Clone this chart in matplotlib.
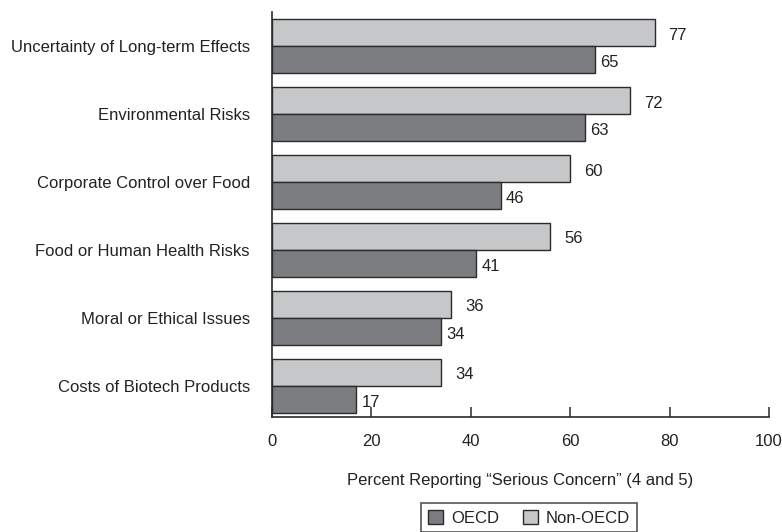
import matplotlib
matplotlib.use("Agg")
import matplotlib.pyplot as plt
import numpy as np
from matplotlib.patches import Patch

plt.rcParams["font.family"] = ["Liberation Sans", "DejaVu Sans"]

concerns = [
    "Uncertainty of Long-term Effects",
    "Environmental Risks",
    "Corporate Control over Food",
    "Food or Human Health Risks",
    "Moral or Ethical Issues",
    "Costs of Biotech Products",
]
oecd = [65, 63, 46, 41, 34, 17]
non_oecd = [77, 72, 60, 56, 36, 34]
xticks = [0, 20, 40, 60, 80, 100]

DARK = "#7b7d80"
LIGHT = "#c5c7c9"
EDGE = "#2b2b2b"
TEXT = "#222222"
FS = 12

fig = plt.figure(figsize=(7.82, 5.32), dpi=100)
ax = fig.add_axes([272 / 782, 1 - 417 / 532, (769 - 272) / 782, (417 - 12) / 532])

y = np.arange(len(concerns))
h = 0.4
ax.barh(y - h / 2, non_oecd, height=h, color=LIGHT, edgecolor=EDGE, linewidth=1.0)
ax.barh(y + h / 2, oecd, height=h, color=DARK, edgecolor=EDGE, linewidth=1.0)

# value labels to the right of each bar
for yi, v in zip(y, non_oecd):
    ax.text(v + 2.8, yi - h / 2 + 0.04, str(v), va="center", ha="left",
            fontsize=FS, color=TEXT)
for yi, v in zip(y, oecd):
    ax.text(v + 1.1, yi + h / 2 + 0.04, str(v), va="center", ha="left",
            fontsize=FS, color=TEXT)

ax.set_xlim(0, 100)
ax.set_ylim(5.46, -0.5)
ax.set_yticks(y)
ax.set_yticklabels(concerns, fontsize=FS, color=TEXT)
ax.tick_params(axis="y", length=0, pad=16)
ax.set_xticks(xticks)
ax.set_xticklabels([str(t) for t in xticks], fontsize=FS, color=TEXT)
ax.tick_params(axis="x", direction="in", length=7, width=1.1, color=EDGE, pad=12.5)

for side in ["top", "right"]:
    ax.spines[side].set_visible(False)
for side in ["left", "bottom"]:
    ax.spines[side].set_color(EDGE)
    ax.spines[side].set_linewidth(1.2)

ax.set_xlabel("Percent Reporting \u201cSerious Concern\u201d (4 and 5)",
              fontsize=FS, color=TEXT, labelpad=17)

handles = [Patch(facecolor=DARK, edgecolor=EDGE, label="OECD"),
           Patch(facecolor=LIGHT, edgecolor=EDGE, label="Non-OECD")]
leg = fig.legend(handles=handles, loc="lower center", ncol=2,
                 bbox_to_anchor=(529 / 782, -0.016), frameon=True, fancybox=False,
                 fontsize=FS, handlelength=0.9, handleheight=0.9,
                 handletextpad=0.5, columnspacing=1.4, borderpad=0.4)
leg.get_frame().set_edgecolor(EDGE)
leg.get_frame().set_linewidth(1.2)
for t in leg.get_texts():
    t.set_color(TEXT)

fig.savefig("out.png", dpi=100)
